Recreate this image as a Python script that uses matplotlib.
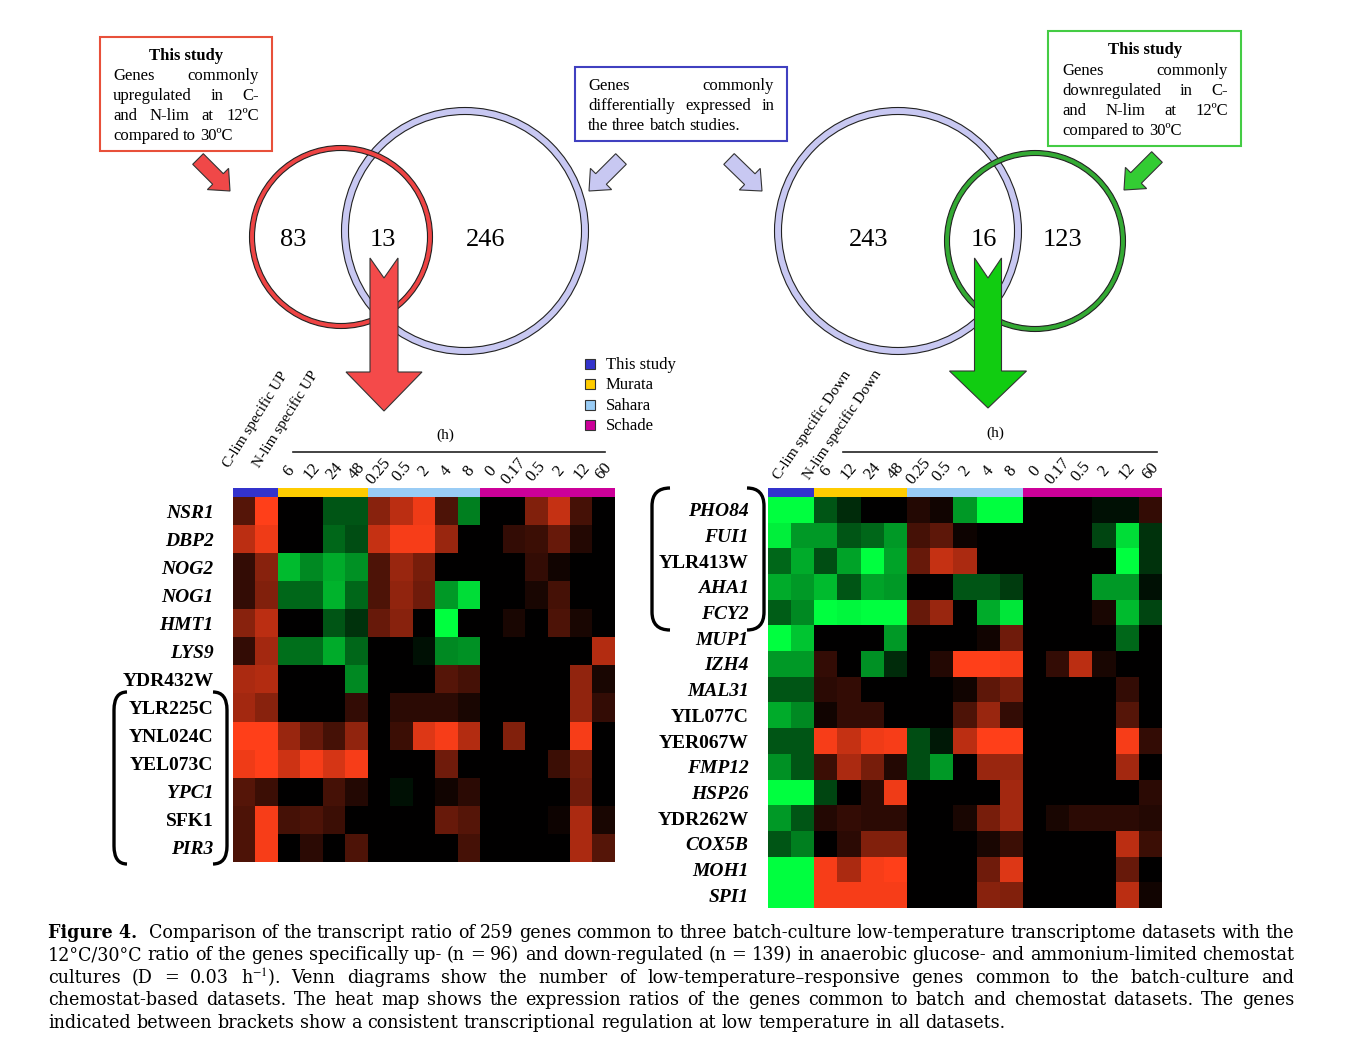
import numpy as np
import matplotlib
matplotlib.use("Agg")
import matplotlib.pyplot as plt
from matplotlib.colors import LinearSegmentedColormap, ListedColormap
from matplotlib.patches import Circle, Rectangle, Polygon, PathPatch
from matplotlib.path import Path

plt.rcParams['font.family'] = ['Liberation Serif', 'DejaVu Serif']
plt.rcParams['mathtext.fontset'] = 'stix'

# ---------------- data ----------------
venn_up = [83, 13, 246]
venn_down = [243, 16, 123]

studies = ["This study", "Murata", "Sahara", "Schade"]
study_colors = ["#3333cc", "#ffcc00", "#99ccf5", "#cc0099"]
column_study = [0, 0, 1, 1, 1, 1, 2, 2, 2, 2, 2, 3, 3, 3, 3, 3, 3]
time_labels = ["6", "12", "24", "48", "0.25", "0.5", "2", "4", "8",
               "0", "0.17", "0.5", "2", "12", "60"]

up_genes = ["NSR1", "DBP2", "NOG2", "NOG1", "HMT1", "LYS9", "YDR432W",
            "YLR225C", "YNL024C", "YEL073C", "YPC1", "SFK1", "PIR3"]
up_italic = [1, 1, 1, 1, 1, 1, 0, 0, 0, 0, 1, 0, 1]
up_values = [
    [1.0, 3.0, 0, 0, -1.0, -1.0, 1.6, 2.2, 2.8, 0.9, -1.5, 0, 0, 1.5, 2.3, 0.8, 0],
    [2.2, 2.8, 0, 0, -1.2, -0.9, 2.3, 2.9, 2.9, 1.8, 0, 0, 0.6, 0.7, 1.2, 0.4, 0],
    [0.6, 1.6, -2.2, -1.6, -2.0, -1.7, 0.9, 1.8, 1.4, 0, 0, 0, 0, 0.6, 0.2, 0, 0],
    [0.6, 1.5, -1.2, -1.2, -2.1, -1.2, 0.9, 1.7, 1.3, -1.8, -2.6, 0, 0, 0.3, 0.8, 0, 0],
    [1.6, 2.2, 0, 0, -1.0, -0.6, 1.2, 1.6, 0, -3.0, 0, 0, 0.3, 0, 0.9, 0.3, 0],
    [0.6, 1.9, -1.3, -1.3, -2.0, -1.2, 0, 0, -0.2, -1.6, -1.7, 0, 0, 0, 0, 0, 2.1],
    [2.0, 2.1, 0, 0, 0, -1.6, 0, 0, 0, 1.0, 0.8, 0, 0, 0, 0, 1.7, 0.3],
    [1.9, 1.6, 0, 0, 0, 0.6, 0, 0.5, 0.5, 0.5, 0.3, 0, 0, 0, 0, 1.7, 0.6],
    [3.0, 3.0, 1.8, 1.2, 0.8, 1.7, 0, 0.7, 2.6, 2.9, 2.1, 0, 1.5, 0, 0, 2.9, 0],
    [2.8, 3.0, 2.4, 2.9, 2.5, 2.9, 0, 0, 0, 1.3, 0, 0, 0, 0, 0.7, 1.4, 0],
    [1.0, 0.7, 0, 0, 0.8, 0.4, 0, -0.2, 0, 0.2, 0.5, 0, 0, 0, 0, 1.3, 0],
    [0.9, 2.9, 0.8, 0.9, 0.7, 0, 0, 0, 0, 1.2, 1.0, 0, 0, 0, 0.15, 2.0, 0.3],
    [0.9, 2.9, 0, 0.5, 0, 0.9, 0, 0, 0, 0, 0.8, 0, 0, 0, 0, 2.0, 1.0],
]

down_genes = ["PHO84", "FUI1", "YLR413W", "AHA1", "FCY2", "MUP1", "IZH4", "MAL31",
              "YIL077C", "YER067W", "FMP12", "HSP26", "YDR262W", "COX5B", "MOH1", "SPI1"]
down_italic = [1, 1, 0, 1, 1, 1, 1, 1, 0, 0, 1, 1, 0, 1, 1, 1]
down_values = [
    [-3, -3, -1.0, -0.5, 0, 0, 0.4, 0.2, -1.8, -3, -3, 0, 0, 0, -0.2, -0.2, 0.6],
    [-2.8, -1.8, -1.8, -1.0, -1.2, -1.8, 0.8, 1.1, 0.15, 0, 0, 0, 0, 0, -0.8, -2.6, -0.6],
    [-1.2, -2.0, -0.9, -1.9, -3, -1.9, 1.2, 2.3, 2.0, 0, 0, 0, 0, 0, 0, -3, -0.6],
    [-2.0, -1.8, -2.2, -1.0, -1.9, -1.8, 0, 0, -1.0, -1.0, -0.7, 0, 0, 0, -1.8, -1.8, -0.2],
    [-1.1, -1.6, -3, -2.9, -3, -3, 1.2, 1.8, 0, -2.0, -2.7, 0, 0, 0, 0.3, -2.2, -0.8],
    [-3, -2.3, 0, 0, 0, -1.8, 0, 0, 0, 0.2, 1.3, 0, 0, 0, 0, -1.2, 0],
    [-1.8, -1.8, 0.6, 0, -1.7, -0.5, 0, 0.4, 3, 3, 2.9, 0, 0.6, 2.2, 0.3, 0, 0],
    [-1.0, -1.0, 0.5, 0.6, 0, 0, 0, 0, 0.2, 1.1, 1.4, 0, 0, 0, 0, 0.6, 0],
    [-2.0, -1.6, 0.2, 0.6, 0.6, 0, 0, 0, 0.9, 1.8, 0.6, 0, 0, 0, 0, 1.0, 0],
    [-1.0, -1.0, 2.9, 2.3, 2.8, 2.9, -0.9, -0.3, 2.2, 3, 3, 0, 0, 0, 0, 2.9, 0.6],
    [-1.7, -1.0, 0.7, 2.0, 1.4, 0.4, -0.9, -1.8, 0, 1.8, 1.8, 0, 0, 0, 0, 1.9, 0],
    [-3, -3, -0.8, 0, 0.5, 2.8, 0, 0, 0, 0, 1.9, 0, 0, 0, 0, 0, 0.5],
    [-1.8, -1.0, 0.4, 0.6, 0.5, 0.5, 0, 0, 0.3, 1.4, 1.9, 0, 0.3, 0.5, 0.5, 0.5, 0.4],
    [-1.0, -1.5, 0, 0.5, 1.5, 1.5, 0, 0, 0, 0.3, 0.7, 0, 0, 0, 0, 2.2, 0.7],
    [-3, -3, 2.9, 2.0, 2.9, 3, 0, 0, 0, 1.3, 2.6, 0, 0, 0, 0, 1.2, 0],
    [-3, -3, 2.9, 2.9, 2.9, 2.9, 0, 0, 0, 1.6, 1.5, 0, 0, 0, 0, 2.2, 0.2],
]

caption_lines = [
    "Comparison of the transcript ratio of 259 genes common to three batch-culture low-temperature transcriptome datasets with the",
    "12°C/30°C ratio of the genes specifically up- (n = 96) and down-regulated (n = 139) in anaerobic glucose- and ammonium-limited chemostat",
    "cultures (D = 0.03 h$^{-1}$). Venn diagrams show the number of low-temperature–responsive genes common to the batch-culture and",
    "chemostat-based datasets. The heat map shows the expression ratios of the genes common to batch and chemostat datasets. The genes",
    "indicated between brackets show a consistent transcriptional regulation at low temperature in all datasets.",
]

# ---------------- figure ----------------
W, H = 1349, 1042
fig = plt.figure(figsize=(W / 100, H / 100), dpi=100)
fig.patch.set_facecolor("white")
ax = fig.add_axes([0, 0, 1, 1])
ax.set_xlim(0, W)
ax.set_ylim(H, 0)
ax.axis("off")
renderer = fig.canvas.get_renderer()


def px_axes(x0, y0, x1, y1):
    return fig.add_axes([x0 / W, 1 - y1 / H, (x1 - x0) / W, (y1 - y0) / H])


def text_width(s, **kw):
    t = ax.text(0, 0, s, **kw)
    w = t.get_window_extent(renderer).width
    t.remove()
    return w


def justify(words, x0, x1, y, justified=True, **kw):
    """y is the baseline"""
    texts = []
    for w in words:
        if isinstance(w, tuple):
            t = ax.text(0, y, w[0], ha="left", va="baseline", **{**kw, **w[1]})
        else:
            t = ax.text(0, y, w, ha="left", va="baseline", **kw)
        texts.append(t)
    widths = [t.get_window_extent(renderer).width for t in texts]
    if justified and len(texts) > 1:
        gap = ((x1 - x0) - sum(widths)) / (len(texts) - 1)
    else:
        gap = text_width("a a", **kw) - text_width("aa", **kw)
    x = x0
    for t, w in zip(texts, widths):
        t.set_x(x)
        x += w + gap


def ring(cx, cy, r, color, width, z):
    lw = width * 0.72
    ax.add_patch(Circle((cx, cy), r, fill=False, ec=color, lw=lw, zorder=z))
    for rr in (r - width / 2, r + width / 2):
        ax.add_patch(Circle((cx, cy), rr, fill=False, ec="#222222", lw=0.8, zorder=z))


def block_arrow(tail, tip, sw, hw, hl, notch, fc, z=5):
    tx, ty = tail
    px, py = tip
    L = np.hypot(px - tx, py - ty)
    ux, uy = (px - tx) / L, (py - ty) / L
    nx, ny = -uy, ux
    local = [(0, sw / 2), (notch, 0), (0, -sw / 2), (L - hl, -sw / 2), (L - hl, -hw / 2),
             (L, 0), (L - hl, hw / 2), (L - hl, sw / 2)]
    verts = [(tx + a * ux + c * nx, ty + a * uy + c * ny) for a, c in local]
    ax.add_patch(Polygon(verts, closed=True, fc=fc, ec="#333333", lw=0.8, zorder=z))


# ---- boxes ----
box_fs = 12
ax.add_patch(Rectangle((100, 37), 172, 114, fill=False, ec="#e8503a", lw=1.5))
ax.text(186, 60, "This study", ha="center", va="baseline", fontsize=box_fs, fontweight="bold")
justify(["Genes", "commonly"], 113, 259, 80, fontsize=box_fs)
justify(["upregulated", "in", "C-"], 113, 259, 100, fontsize=box_fs)
justify(["and", "N-lim", "at", "12ºC"], 113, 259, 120, fontsize=box_fs)
justify(["compared", "to", "30ºC"], 113, 259, 140, justified=False, fontsize=box_fs)

ax.add_patch(Rectangle((575, 67), 212, 74, fill=False, ec="#4040c0", lw=1.5))
justify(["Genes", "commonly"], 588, 774, 90, fontsize=box_fs)
justify(["differentially", "expressed", "in"], 588, 774, 110, fontsize=box_fs)
justify(["the", "three", "batch", "studies."], 588, 774, 130, justified=False, fontsize=box_fs)

ax.add_patch(Rectangle((1048, 31), 193, 115, fill=False, ec="#44cc44", lw=1.5))
ax.text(1145, 54, "This study", ha="center", va="baseline", fontsize=box_fs, fontweight="bold")
justify(["Genes", "commonly"], 1062, 1228, 75, fontsize=box_fs)
justify(["downregulated", "in", "C-"], 1062, 1228, 95, fontsize=box_fs)
justify(["and", "N-lim", "at", "12ºC"], 1062, 1228, 115, fontsize=box_fs)
justify(["compared", "to", "30ºC"], 1062, 1228, 135, justified=False, fontsize=box_fs)

# ---- small arrows ----
block_arrow((198, 159), (230, 191), 15, 30, 17, 0, "#f04848")
block_arrow((621, 159), (589, 191), 15, 30, 17, 0, "#c8c8f2")
block_arrow((729, 159), (762, 191), 15, 30, 17, 0, "#c8c8f2")
block_arrow((1157, 157), (1124, 190), 15, 30, 17, 0, "#33cc33")

# ---- Venn diagrams ----
ring(465, 231, 120, "#c8c8f2", 7, 2)
ring(341, 237, 89, "#ee4444", 5, 3)
ring(898, 231, 120, "#c8c8f2", 7, 2)
ring(1035, 241, 88, "#33aa33", 5, 3)
num_fs = 19
for x, v in zip([293, 383, 486], venn_up):
    ax.text(x, 240, str(v), ha="center", va="center", fontsize=num_fs)
for x, v in zip([869, 984, 1062], venn_down):
    ax.text(x, 240, str(v), ha="center", va="center", fontsize=num_fs)

block_arrow((384, 258), (384, 411), 28, 76, 39, 20, "#f44a4a", z=6)
block_arrow((988, 258), (988, 408), 27, 77, 37, 20, "#11cc11", z=6)

# ---- legend ----
for i, (s, c) in enumerate(zip(studies, study_colors)):
    y = 364 + 20.3 * i
    ax.add_patch(Rectangle((585, y - 5), 10, 10, fc=c, ec="#333333", lw=0.8))
    ax.text(606, y + 5, s, ha="left", va="baseline", fontsize=12)

# ---- heatmaps ----
cmap = LinearSegmentedColormap.from_list(
    "rg", [(0.0, 1.0, 0.25), (0.0, 0.0, 0.0), (1.0, 0.25, 0.1)])
bar_cmap = ListedColormap(study_colors)


def heatmap(x0, x1, y0, y1, values, genes, italic, hdr_words, hdr_start, hdr_rot,
            line_x, h_xy):
    hm = px_axes(x0, y0, x1, y1)
    hm.imshow(np.array(values), cmap=cmap, vmin=-3, vmax=3, aspect="auto",
              interpolation="nearest")
    hm.set_xticks([])
    hm.set_yticks(range(len(genes)))
    hm.set_yticklabels(genes, fontsize=14, fontweight="bold")
    for lbl, it in zip(hm.get_yticklabels(), italic):
        lbl.set_fontstyle("italic" if it else "normal")
    hm.tick_params(axis="y", length=0, pad=14)
    for s in hm.spines.values():
        s.set_visible(False)

    bar = px_axes(x0, 488, x1, 497)
    bar.imshow(np.array([column_study]), cmap=bar_cmap, vmin=-0.5, vmax=3.5,
               aspect="auto", interpolation="nearest")
    bar.set_yticks([])
    bar.xaxis.tick_top()
    bar.set_xticks(range(2, 17))
    bar.set_xticklabels(time_labels, fontsize=12, rotation=50, ha="center", va="center")
    bar.tick_params(axis="x", length=0, pad=12)
    for s in bar.spines.values():
        s.set_visible(False)

    for (xs, ys), w in zip(hdr_start, hdr_words):
        ax.text(xs, ys, w, rotation=hdr_rot, rotation_mode="anchor", ha="left",
                va="bottom", fontsize=11)
    ax.plot(line_x, [452, 452], color="#222222", lw=1.2)
    ax.text(h_xy[0], h_xy[1], "(h)", ha="center", va="center", fontsize=11)


heatmap(233, 615, 497, 862, up_values, up_genes, up_italic,
        ["C-lim specific UP", "N-lim specific UP"], [(232, 470), (262, 470)], 58,
        [293, 605], (445, 435))
heatmap(768, 1162, 497, 908, down_values, down_genes, down_italic,
        ["C-lim specific Down", "N-lim specific Down"], [(782, 482), (812, 482)], 56,
        [843, 1157], (995, 433))


# ---- brackets ----
def bracket(xe, xo, y0, y1, r=18):
    verts = [(xe, y0), (xo, y0), (xo, y0 + r), (xo, y0 + r + 2),
             (xo, y1 - r - 2), (xo, y1 - r), (xo, y1), (xe, y1)]
    codes = [Path.MOVETO, Path.CURVE3, Path.CURVE3, Path.LINETO,
             Path.LINETO, Path.LINETO, Path.CURVE3, Path.CURVE3]
    ax.add_patch(PathPatch(Path(verts, codes), fill=False, ec="black", lw=2.4))


bracket(127, 114, 692, 864)
bracket(213, 227, 692, 864)
bracket(670, 652, 488, 630)
bracket(747, 764, 488, 630)

# ---- caption ----
cap_family = ['DejaVu Serif']
w10 = text_width(caption_lines[4], fontsize=10, family=cap_family)
cap_fs = 10 * 960 / w10
cap_y = [938, 960, 983, 1005, 1028]
first = [("Figure 4. ", {"fontweight": "bold"})] + caption_lines[0].split(" ")
justify(first, 48, 1294, cap_y[0], fontsize=cap_fs, family=cap_family)
for i in (1, 2, 3):
    justify(caption_lines[i].split(" "), 48, 1294, cap_y[i], fontsize=cap_fs, family=cap_family)
justify(caption_lines[4].split(" "), 48, 1294, cap_y[4], justified=False,
        fontsize=cap_fs, family=cap_family)

fig.savefig("out.png", dpi=100, facecolor="white")
